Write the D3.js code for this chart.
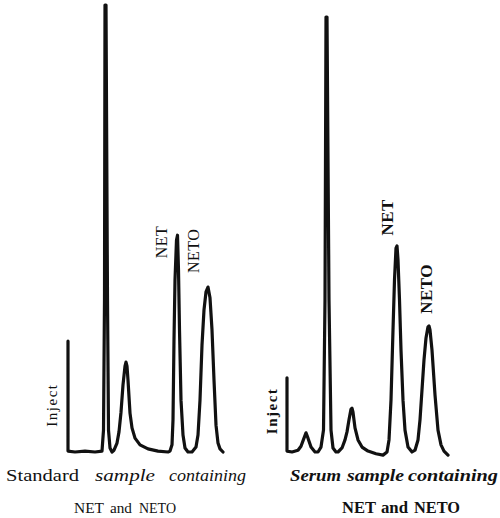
<!DOCTYPE html>
<html>
<head>
<meta charset="utf-8">
<script src="https://cdn.jsdelivr.net/npm/d3@7"></script>
<style>
  body { margin: 0; background: #fff; }
  text { font-family: "Liberation Serif", "DejaVu Serif", serif; fill: #111; }
</style>
</head>
<body>
<div class="chart"></div>
<script>
// retention time (min) and detector response (% of full scale)
var stdTime = [0.4, 0.4, 1.1, 2.1, 3.1, 3.8, 3.95, 4.05, 4.1, 4.2, 4.35, 4.45, 4.6, 4.8,
  5.0, 5.3, 5.5, 5.7, 5.9, 6.1, 6.2, 6.3, 6.4, 6.6, 6.8, 7.1, 7.6, 8.4, 9.4, 10.4,
  10.6, 10.8, 10.9, 11.0, 11.1, 11.25, 11.35, 11.45, 11.55, 11.7, 11.9, 12.1, 12.4, 12.8,
  13.2, 13.4, 13.6, 13.8, 14.0, 14.2, 14.4, 14.6, 14.8, 15.0, 15.2, 15.4, 15.6, 15.9];
var stdSignal = [24.8, 0.2, 0, 0.2, 0, 0.2, 4.9, 34, 100, 100, 34, 4.9, 0.9, 0,
  0.4, 2.0, 4.5, 8.9, 15, 19.2, 20.1, 19.2, 16.1, 8.7, 5.4, 3.1, 1.6, 0.7, 0.2, 0,
  0.2, 1.6, 7.2, 25.1, 38.5, 47.4, 48.5, 40.7, 27.3, 11.6, 3.8, 0.9, 0, 0,
  1.1, 3.8, 11.6, 23.9, 31.8, 35.8, 36.9, 34.5, 27.3, 16.1, 6.0, 2.0, 0.7, 0];

var serumTime = [0.4, 0.4, 0.9, 1.5, 1.8, 2.1, 2.3, 2.5, 2.8, 3.2, 3.5, 3.8, 4.05, 4.2,
  4.3, 4.4, 4.6, 4.8, 5.0, 5.3, 5.5, 5.9, 6.2, 6.4, 6.6, 6.8, 6.9, 7.0, 7.2, 7.5, 7.9,
  8.5, 9.3, 10.0, 10.4, 10.6, 10.8, 11.0, 11.15, 11.3, 11.4, 11.5, 11.65, 11.8, 12.0,
  12.2, 12.5, 12.9, 13.2, 13.5, 13.7, 13.9, 14.1, 14.3, 14.5, 14.6, 14.7, 14.9, 15.2,
  15.5, 15.8, 16.1, 16.5];
var serumSignal = [16.6, 0.2, 0, 0.4, 1.3, 3.1, 4.3, 3.1, 1.1, 0, 0, 1.1, 4.9, 34,
  97.3, 97.3, 34, 4.9, 0.9, 0, 0, 0.9, 2.7, 4.5, 7.2, 9.6, 9.8, 8.9, 5.4, 2.7, 1.1,
  0.2, -0.4, -0.7, 0, 2.7, 11.6, 27.3, 38.5, 45.6, 46.1, 43.0, 34, 22.8, 11.6,
  4.9, 1.1, 0, 0.4, 2.7, 7.2, 13.9, 20.6, 25.5, 28, 28.2, 27.3, 22.8, 12.8,
  4.9, 1.6, 0.2, -0.7];

// rotated labels placed in data units (time, response)
var stdLabels = [
  { text: 'Inject', t: -1.2, s: 10.5 },
  { text: 'NET', t: 9.7, s: 47 },
  { text: 'NETO', t: 12.9, s: 45 }
];
var serumLabels = [
  { text: 'Inject', t: -1.1, s: 9.2 },
  { text: 'NET', t: 10.4, s: 52.5 },
  { text: 'NETO', t: 14.3, s: 36.5 }
];

var width = 500, height = 518;

var svg = d3.select('.chart')
  .append('svg')
    .attr('width', width)
    .attr('height', height);

var y = d3.scaleLinear().domain([0, 100]).range([452, 5]);

function drawPanel(x, times, signals, labels, bold) {
  var pts = times.map((t, i) => [t, signals[i]]);
  var line = d3.line()
    .x(d => x(d[0]))
    .y(d => y(d[1]));

  svg.append('path')
    .datum(pts)
    .attr('d', line)
    .attr('fill', 'none')
    .attr('stroke', '#111')
    .attr('stroke-width', 3.2)
    .attr('stroke-linejoin', 'round')
    .attr('stroke-linecap', 'round');

  svg.selectAll(null)
    .data(labels)
    .enter()
    .append('text')
      .attr('transform', d => `translate(${x(d.t)}, ${y(d.s)}) rotate(-90)`)
      .attr('text-anchor', 'middle')
      .attr('dy', '0.35em')
      .style('font-size', d => d.text === 'Inject' ? '15px' : (bold ? '17px' : '16px'))
      .style('font-weight', bold ? 'bold' : 'normal')
      .style('letter-spacing', d => d.text === 'Inject' ? '1.5px' : '0.5px')
      .text(d => d.text);
}

var xStd = d3.scaleLinear().domain([0, 16]).range([64, 224]);
var xSerum = d3.scaleLinear().domain([0, 16]).range([283, 443]);

drawPanel(xStd, stdTime, stdSignal, stdLabels, false);
drawPanel(xSerum, serumTime, serumSignal, serumLabels, true);

// captions under the two traces
function caption(words, italic, bold, size, yPos) {
  svg.selectAll(null)
    .data(words)
    .enter()
    .append('text')
      .attr('x', d => d.x)
      .attr('y', yPos)
      .attr('textLength', d => d.w)
      .attr('lengthAdjust', 'spacingAndGlyphs')
      .style('font-size', size + 'px')
      .style('font-style', d => italic(d) ? 'italic' : 'normal')
      .style('font-weight', bold ? 'bold' : 'normal')
      .text(d => d.text);
}

caption([
  { text: 'Standard', x: 6, w: 73 },
  { text: 'sample', x: 95, w: 60 },
  { text: 'containing', x: 169, w: 77 }
], d => d.text !== 'Standard', false, 16, 481);
caption([
  { text: 'NET', x: 74, w: 30 },
  { text: 'and', x: 110, w: 22 },
  { text: 'NETO', x: 139, w: 37 }
], d => false, false, 15, 513);

caption([
  { text: 'Serum', x: 290, w: 51 },
  { text: 'sample', x: 347, w: 57 },
  { text: 'containing', x: 408, w: 90 }
], d => true, true, 16, 481);
caption([
  { text: 'NET', x: 342, w: 34 },
  { text: 'and', x: 381, w: 27 },
  { text: 'NETO', x: 414, w: 46 }
], d => false, true, 17, 513);
</script>
</body>
</html>
